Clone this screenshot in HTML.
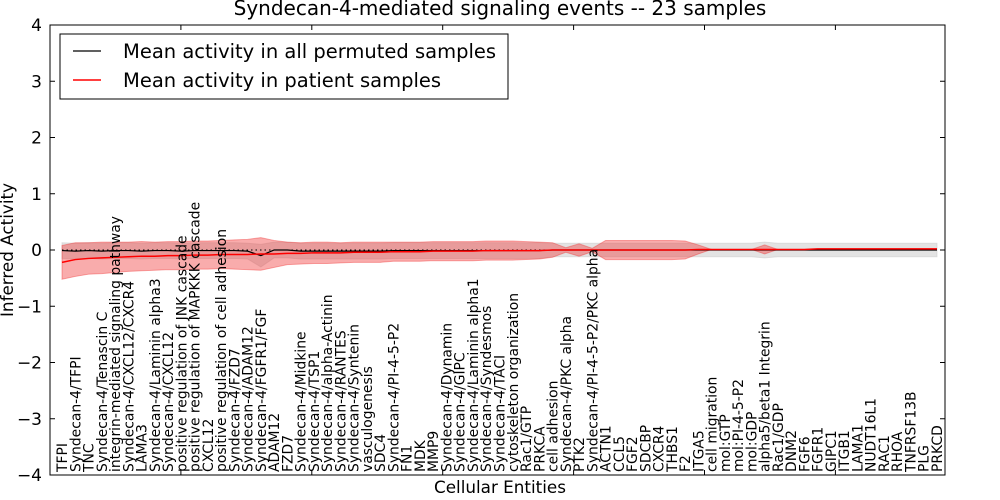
<!DOCTYPE html>
<html><head><meta charset="utf-8"><style>
body{margin:0;background:#fff;}
svg{display:block;font-family:"DejaVu Sans","Liberation Sans",sans-serif;}
</style></head><body>
<svg id="chart" width="1000" height="500" xmlns="http://www.w3.org/2000/svg">
<rect width="1000" height="500" fill="#fff"/>
<text x="500" y="15" font-size="20" text-anchor="middle">Syndecan-4-mediated signaling events -- 23 samples</text>
<g id="plot"></g>
<text transform="translate(13,250) rotate(-90)" font-size="16.8" text-anchor="middle">Inferred Activity</text>
<text x="500" y="493" font-size="16.8" text-anchor="middle">Cellular Entities</text>
</svg>
<script>
const entities=["TFPI","Syndecan-4/TFPI","TNC","Syndecan-4/Tenascin C","integrin-mediated signaling pathway","Syndecan-4/CXCL12/CXCR4","LAMA3","Syndecan-4/Laminin alpha3","Syndecan-4/CXCL12","positive regulation of JNK cascade","positive regulation of MAPKKK cascade","CXCL12","positive regulation of cell adhesion","Syndecan-4/FZD7","Syndecan-4/ADAM12","Syndecan-4/FGFR1/FGF","ADAM12","FZD7","Syndecan-4/Midkine","Syndecan-4/TSP1","Syndecan-4/alpha-Actinin","Syndecan-4/RANTES","Syndecan-4/Syntenin","vasculogenesis","SDC4","Syndecan-4/PI-4-5-P2","FN1","MDK","MMP9","Syndecan-4/Dynamin","Syndecan-4/GIPC","Syndecan-4/Laminin alpha1","Syndecan-4/Syndesmos","Syndecan-4/TACI","cytoskeleton organization","Rac1/GTP","PRKCA","cell adhesion","Syndecan-4/PKC alpha","PTK2","Syndecan-4/PI-4-5-P2/PKC alpha","ACTN1","CCL5","FGF2","SDCBP","CXCR4","THBS1","F2","ITGA5","cell migration","mol:GTP","mol:PI-4-5-P2","mol:GDP","alpha5/beta1 Integrin","Rac1/GDP","DNM2","FGF6","FGFR1","GIPC1","ITGB1","LAMA1","NUDT16L1","RAC1","RHOA","TNFRSF13B","PLG","PRKCD"];
const patientMean=[-0.22,-0.17,-0.15,-0.14,-0.13,-0.12,-0.11,-0.11,-0.10,-0.10,-0.09,-0.09,-0.08,-0.08,-0.08,-0.07,-0.07,-0.06,-0.06,-0.05,-0.05,-0.05,-0.04,-0.04,-0.04,-0.03,-0.03,-0.03,-0.02,-0.02,-0.02,-0.02,-0.01,-0.01,-0.01,-0.01,-0.01,0,0,0,0,0,0,0,0,0,0,0,0.01,0.01,0.01,0.01,0.01,0.01,0.01,0.01,0.01,0.02,0.02,0.02,0.02,0.02,0.02,0.02,0.02,0.02,0.02];
const patientSpread=[0.30,0.30,0.28,0.28,0.27,0.26,0.26,0.25,0.25,0.25,0.25,0.25,0.25,0.26,0.27,0.29,0.24,0.20,0.19,0.19,0.19,0.18,0.18,0.18,0.18,0.17,0.17,0.17,0.17,0.17,0.17,0.17,0.17,0.17,0.17,0.16,0.15,0.13,0.04,0.11,0.03,0.17,0.17,0.17,0.17,0.17,0.17,0.16,0.08,0,0,0,0,0.08,0,0,0,0,0,0,0,0,0,0,0,0,0];
const permMean=[-0.01,-0.02,-0.01,-0.02,-0.01,-0.01,-0.02,-0.01,-0.01,-0.02,-0.01,-0.01,-0.01,-0.01,-0.02,-0.1,0,0,-0.02,-0.02,-0.02,-0.02,-0.02,-0.02,-0.02,-0.01,-0.01,-0.01,-0.01,-0.01,-0.01,-0.01,-0.01,-0.01,-0.01,-0.01,-0.01,0,0,0,0,0,0,0,0,0,0,0,0,0,0,0,0,0,0,0,0,0,0,0,0,0,0,0,0,0,0];
const permSpread=[0.14,0.14,0.14,0.14,0.14,0.14,0.14,0.14,0.14,0.14,0.14,0.14,0.14,0.14,0.14,0.2,0.14,0.14,0.14,0.14,0.14,0.14,0.14,0.14,0.14,0.14,0.14,0.14,0.14,0.14,0.14,0.14,0.14,0.14,0.14,0.14,0.14,0.12,0.12,0.12,0.12,0.12,0.12,0.12,0.12,0.12,0.12,0.12,0.12,0.12,0.12,0.12,0.12,0.14,0.12,0.12,0.12,0.12,0.12,0.12,0.12,0.12,0.12,0.12,0.12,0.12,0.12];
const yTicks=[-4,-3,-2,-1,0,1,2,3,4];

const NS="http://www.w3.org/2000/svg";
const L=50,R=945,T=25,B=475;
const xs=i=>62+i*(937-62)/66;
const ys=v=>250-v*(B-T)/8;
const g=document.getElementById('plot');
function mk(tag,attrs,parent){const e=document.createElementNS(NS,tag);for(const k in attrs)e.setAttribute(k,attrs[k]);(parent||g).appendChild(e);return e;}
function band(mean,spread,fill,op){
  let up=mean.map((m,i)=>xs(i)+','+ys(m+spread[i]));
  let dn=mean.map((m,i)=>xs(i)+','+ys(m-spread[i])).reverse();
  return mk('polygon',{points:up.concat(dn).join(' '),fill:fill,'fill-opacity':op,stroke:fill,'stroke-opacity':op,'stroke-width':1});
}
const gb=band(permMean,permSpread,'#c8c8c8',0.5);


const rb=band(patientMean,patientSpread,'#f03030',0.4);


const zl=mk('line',{x1:xs(0),x2:xs(66),y1:ys(0),y2:ys(0),stroke:'#000','stroke-dasharray':'1.5,3','stroke-width':1});


const bl=mk('polyline',{points:permMean.map((m,i)=>xs(i)+','+ys(m)).join(' '),fill:'none',stroke:'#000','stroke-width':1.2});


const rl=mk('polyline',{points:patientMean.map((m,i)=>xs(i)+','+ys(m)).join(' '),fill:'none',stroke:'#f00','stroke-width':1.5});


const fr=mk('rect',{x:L,y:T,width:R-L,height:B-T,fill:'none',stroke:'#000','stroke-width':1});


yTicks.forEach(v=>{
  const y=ys(v);
  mk('line',{x1:L,x2:L+5,y1:y,y2:y,stroke:'#000'});
  mk('line',{x1:R-5,x2:R,y1:y,y2:y,stroke:'#000'});
  const t=mk('text',{x:L-8,y:y+6,'font-size':17,'text-anchor':'end'});
  t.textContent=(v<0?'\u2212':'')+Math.abs(v);
  
  
});
for(let k=1;k<=6;k++){const x=L+k*130.9;mk('line',{x1:x,x2:x,y1:T,y2:T+5,stroke:'#000'});mk('line',{x1:x,x2:x,y1:B-5,y2:B,stroke:'#000'});}
entities.forEach((n,i)=>{
  const x=xs(i)+5;
  const t=mk('text',{transform:`translate(${x},472) rotate(-90)`,'font-size':13.9});
  t.textContent=n;
  
  
});
const lg=mk('g',{});


mk('rect',{x:60,y:34,width:448,height:65,fill:'#fff',stroke:'#000','stroke-width':1},lg);
mk('line',{x1:73,x2:101,y1:51,y2:51,stroke:'#000','stroke-width':1.2},lg);
mk('line',{x1:73,x2:101,y1:80,y2:80,stroke:'#f00','stroke-width':1.5},lg);
const t1=mk('text',{x:123,y:58,'font-size':19.5},lg);
t1.textContent='Mean activity in all permuted samples';


const t2=mk('text',{x:123,y:87,'font-size':19.5},lg);
t2.textContent='Mean activity in patient samples';


</script>
</body></html>
